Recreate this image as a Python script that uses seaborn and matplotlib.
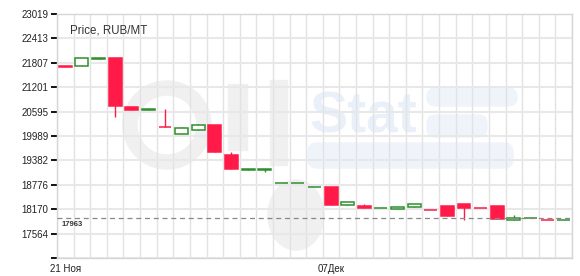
import matplotlib
matplotlib.use("Agg")
import matplotlib.pyplot as plt
import seaborn as sns
import numpy as np
import pandas as pd
from matplotlib.patches import Wedge, FancyBboxPatch, Rectangle, Ellipse
from matplotlib.transforms import IdentityTransform

# ---- data ----
opens  = [21725, 21718, 21910, 21917, 20699, 20645, 20216, 20027, 20127, 20258,
          19512, 19150, 19150, 18826, 18826, 18728, 18734, 18276, 18251, 18205,
          18187, 18227, 18150, 18244, 18294, 18205, 18244, 17913, 17958, 17910, 17898]
closes = [21710, 21917, 21917, 20738, 20624, 20649, 20200, 20191, 20251, 19594,
          19157, 19157, 19157, 18833, 18833, 18734, 18276, 18343, 18194, 18212,
          18237, 18294, 18144, 18013, 18202, 18199, 17938, 17954, 17963, 17903, 17903]
highs  = [21725, 21917, 21917, 21917, 20699, 20649, 20656, 20215, 20290, 20258,
          19587, 19157, 19157, 18833, 18833, 18734, 18734, 18343, 18290, 18212,
          18237, 18294, 18150, 18244, 18294, 18205, 18244, 18020, 17963, 17910, 17903]
lows   = [21710, 21718, 21910, 20450, 20624, 20645, 20200, 20027, 20127, 19594,
          19157, 19150, 19100, 18826, 18826, 18728, 18276, 18276, 18194, 18205,
          18187, 18227, 18144, 18013, 17913, 18199, 17938, 17913, 17958, 17903, 17898]
ytick_vals = [23019, 22413, 21807, 21201, 20595, 19989, 19382, 18776, 18170, 17564, 16958]
ytick_labels = ["23019", "22413", "21807", "21201", "20595", "19989", "19382",
                "18776", "18170", "17564", ""]
xtick_pos = [0, 16]
xtick_labels = ["21 Ноя", "07Дек"]
ref_level = 17963
title = "Price, RUB/MT"

df = pd.DataFrame({"open": opens, "close": closes, "high": highs, "low": lows})
df["x"] = np.arange(len(df))
df["up"] = df["close"] >= df["open"]

# ---- style ----
sns.set_style("white")
plt.rcParams["font.family"] = ["Liberation Sans", "DejaVu Sans"]

W, H = 580, 276
fig = plt.figure(figsize=(W / 100, H / 100), dpi=100)
ax = fig.add_axes([57 / W, (H - 258) / H, 515 / W, 244 / H])

ID = IdentityTransform()

def d(x, y):
    # pixel (from top-left) -> display coords
    return (x, H - y)

# ---- watermark (faint logo) ----
gray = "#f0f0f0"
blue = "#eff4fb"
wm = [
    Wedge(d(167, 125), 44, 0, 360, width=14),
    Rectangle(d(228, 150), 19, 66),
    Rectangle(d(270, 165), 17, 85),
    Ellipse(d(296, 215), 56, 70),
]
for p in wm:
    p.set_transform(ID)
    p.set_color(gray)
    p.set_zorder(-5)
    fig.add_artist(p)
for (x0, y0, x1, y1) in [(427, 88, 517, 106), (427, 115, 487, 137), (308, 143, 513, 168)]:
    p = FancyBboxPatch(d(x0, y1), x1 - x0, y1 - y0,
                       boxstyle="round,pad=0,rounding_size=9", transform=ID,
                       color=blue, zorder=-5)
    fig.add_artist(p)
fig.text(309 / W, 1 - 133 / H, "Stat", fontsize=41, fontweight="bold",
         color="#e9f0f9", zorder=-5)

ax.set_facecolor("none")
ax.patch.set_alpha(0)

# ---- grid ----
ax.set_xlim(-0.5, len(df) - 0.5)
ax.set_ylim(ytick_vals[-1], ytick_vals[0])
ax.set_yticks(ytick_vals)
ax.set_yticklabels(ytick_labels)
ax.set_xticks(xtick_pos)
ax.set_xticklabels(xtick_labels)
ax.set_xticks(np.arange(-0.5, len(df), 1), minor=True)
ax.grid(True, which="minor", axis="x", color="#e2e2e2", lw=1)
ax.grid(True, which="major", axis="y", color="#e8e8e8", lw=1.5)
ax.set_axisbelow(True)

red = "#ff1a48"
green = "#2f8f2f"

# wicks
for _, r in df.iterrows():
    c = green if r["up"] else red
    ax.vlines(r["x"], r["low"], r["high"], color=c, lw=1, zorder=2)

# bodies
up = df[df["up"]]
dn = df[~df["up"]]
ax.bar(up["x"], up["close"] - up["open"], bottom=up["open"], width=0.78,
       facecolor="white", edgecolor=green, linewidth=1.1, zorder=3)
ax.bar(dn["x"], dn["close"] - dn["open"], bottom=dn["open"], width=0.78,
       facecolor=red, edgecolor=red, linewidth=1.1, zorder=3)

# reference line
ax.axhline(ref_level, color="#888888", lw=0.9, ls=(0, (4, 3)), zorder=4)
ax.text(-0.2, ref_level - 90, f"{ref_level}", fontsize=5.5, fontweight="bold",
        color="#333333", va="top", ha="left", zorder=5)

ax.text(0.025, 0.955, title, transform=ax.transAxes, fontsize=8.3,
        color="#333333", va="top", ha="left")

for s in ax.spines.values():
    s.set_color("#d6d6d6")
    s.set_linewidth(1)

ax.tick_params(axis="y", which="major", length=4, width=1.3, color="black",
               labelsize=7, labelcolor="#222222", pad=2, left=True)
ax.tick_params(axis="x", which="both", length=0, labelsize=7, labelcolor="#222222", pad=4)

fig.savefig("out.png", dpi=100)
